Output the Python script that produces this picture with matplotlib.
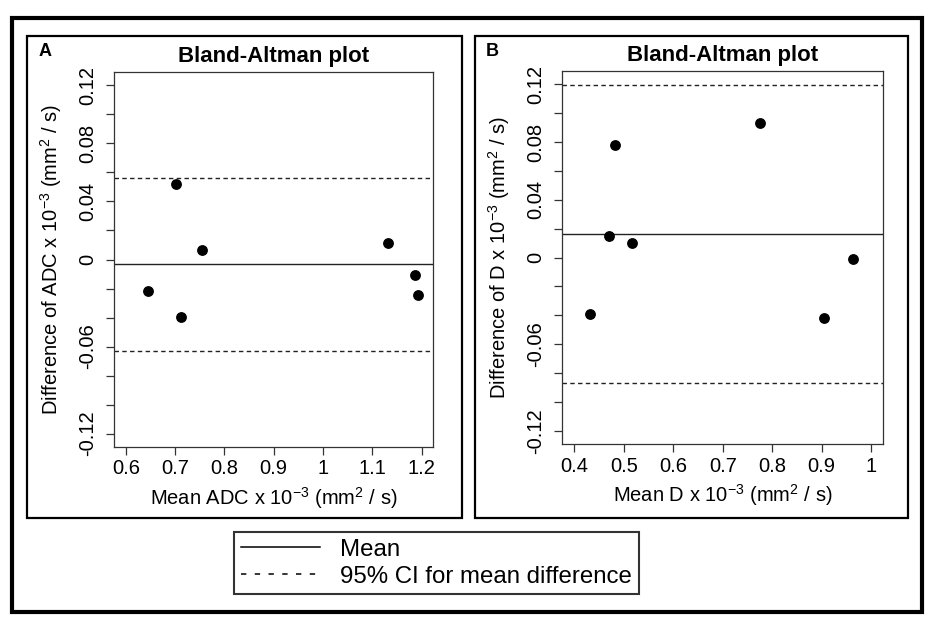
import matplotlib.pyplot as plt
from matplotlib.patches import Rectangle
from matplotlib.lines import Line2D

plt.rcParams['font.family'] = ['Liberation Sans', 'DejaVu Sans']
plt.rcParams['mathtext.fontset'] = 'custom'
plt.rcParams['mathtext.rm'] = 'Liberation Sans'
plt.rcParams['mathtext.it'] = 'Liberation Sans:italic'
plt.rcParams['mathtext.bf'] = 'Liberation Sans:bold'

# panel A: ADC
adc_mean = [0.645, 0.7015, 0.711, 0.7536, 1.131, 1.1865, 1.192]
adc_diff = [-0.0218, 0.052, -0.0399, 0.0064, 0.0117, -0.0106, -0.0245]
adc_bias = -0.0034
adc_limits = [0.056, -0.063]

# panel B: D
d_mean = [0.4324, 0.470, 0.4816, 0.5168, 0.7758, 0.9055, 0.9642]
d_diff = [-0.0392, 0.0152, 0.0782, 0.0100, 0.0935, -0.0422, -0.0011]
d_bias = 0.0162
d_limits = [0.1198, -0.0872]

y_ticks = [0.12, 0.10, 0.08, 0.06, 0.04, 0.02, 0, -0.02, -0.04, -0.06, -0.08, -0.10, -0.12]
y_shown = {0.12: "0.12", 0.08: "0.08", 0.04: "0.04", 0: "0", -0.06: "-0.06", -0.12: "-0.12"}
adc_xticks = [0.6, 0.7, 0.8, 0.9, 1.0, 1.1, 1.2]
adc_xlabels = ["0.6", "0.7", "0.8", "0.9", "1", "1.1", "1.2"]
d_xticks = [0.4, 0.5, 0.6, 0.7, 0.8, 0.9, 1.0]
d_xlabels = ["0.4", "0.5", "0.6", "0.7", "0.8", "0.9", "1"]

W, H = 939, 627
fig = plt.figure(figsize=(W / 100, H / 100), dpi=100)


def px(x0, y0, x1, y1):
    # pixel box (top-left origin) -> figure fraction rect
    return [x0 / W, 1 - y1 / H, (x1 - x0) / W, (y1 - y0) / H]


def frame(x0, y0, x1, y1, lw):
    r = px(x0, y0, x1, y1)
    fig.patches.append(Rectangle((r[0], r[1]), r[2], r[3], transform=fig.transFigure,
                                 fill=False, edgecolor="black", linewidth=lw))


frame(12, 18, 922, 612, 3.0)
frame(27, 36, 462, 518, 1.6)
frame(475, 36, 908, 518, 1.6)

fs = 14.5
line_col = "#222222"
dash = (0, (3.2, 2.4))


def panel(rect, xm, yd, bias, lims, xlim, xticks, xlabels, xlab, ylab, letter, lx):
    ax = fig.add_axes(px(*rect))
    ax.scatter(xm, yd, s=46, color="black", zorder=3)
    ax.axhline(bias, color=line_col, lw=1.0)
    for v in lims:
        ax.axhline(v, color=line_col, lw=1.0, linestyle=dash)
    ax.set_xlim(*xlim)
    ax.set_ylim(-0.1292, 0.1292)
    ax.set_xticks(xticks)
    ax.set_xticklabels(xlabels, fontsize=fs)
    ax.set_yticks(y_ticks)
    ax.set_yticklabels([y_shown.get(round(t, 2), "") for t in y_ticks],
                       fontsize=fs, rotation=90, va="center")
    ax.tick_params(direction="out", length=6, width=0.9, color="#333333", pad=3)
    ax.tick_params(axis="y", pad=6)
    for s in ax.spines.values():
        s.set_color("#333333")
        s.set_linewidth(0.9)
    ax.set_xlabel(xlab, fontsize=fs, labelpad=5)
    ax.set_ylabel(ylab, fontsize=fs, labelpad=10)
    ax.set_title("Bland-Altman plot", fontsize=16, fontweight="bold", pad=7)
    fig.text(lx / W, 1 - 52 / H, letter, fontsize=13, fontweight="bold",
             ha="center", va="center")
    return ax


panel((114, 72, 433, 447), adc_mean, adc_diff, adc_bias, adc_limits, (0.576, 1.223),
      adc_xticks, adc_xlabels,
      r"Mean ADC x 10$^{-3}$ (mm$^2$ / s)", r"Difference of ADC x 10$^{-3}$ (mm$^2$ / s)", "A", 45)
panel((562, 71, 883, 444), d_mean, d_diff, d_bias, d_limits, (0.375, 1.024),
      d_xticks, d_xlabels,
      r"Mean D x 10$^{-3}$ (mm$^2$ / s)", r"Difference of D x 10$^{-3}$ (mm$^2$ / s)", "B", 492)

handles = [Line2D([], [], color="black", lw=1.1),
           Line2D([], [], color="black", lw=1.1, linestyle=(0, (3.5, 5.5)))]
leg = fig.legend(handles, ["Mean", "95% CI for mean difference"],
                 loc="upper left", bbox_to_anchor=(234 / W, 1 - 532 / H),
                 fontsize=17.3, frameon=True, fancybox=False, edgecolor="black",
                 handlelength=3.3, handletextpad=0.85, borderpad=0.28,
                 labelspacing=0.2, borderaxespad=0)
leg.get_frame().set_linewidth(1.5)

fig.savefig("out.png", dpi=100)
